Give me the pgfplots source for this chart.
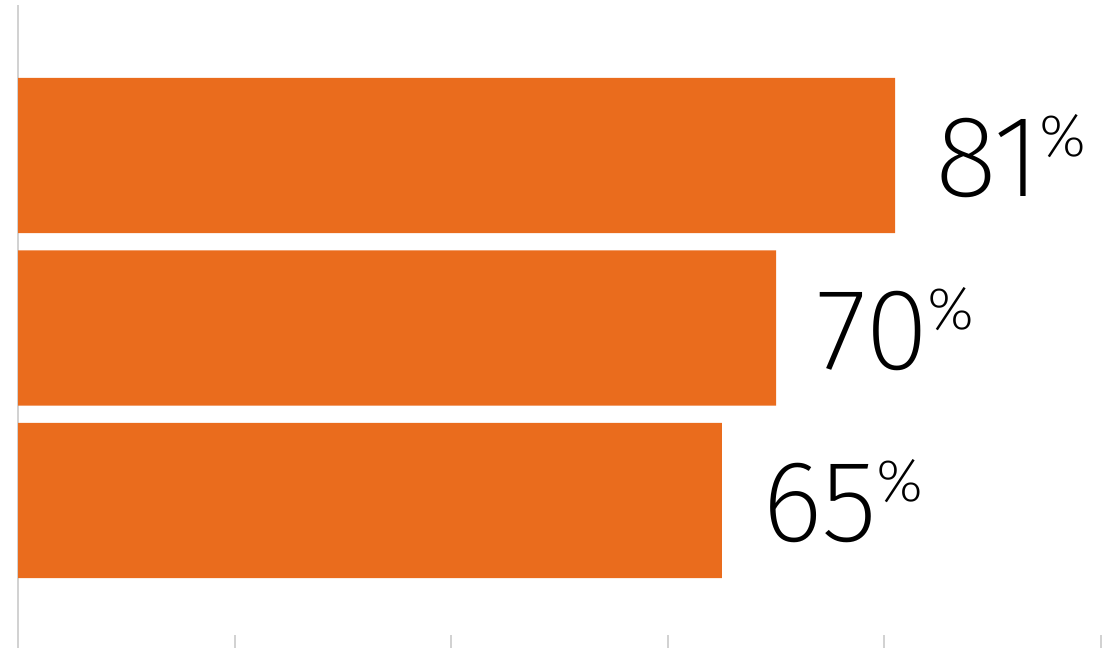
\documentclass[border=0pt]{standalone}
\usepackage{fontspec}
\setmainfont{Fira Sans ExtraLight}
\usepackage{pgfplots}
\pgfplotsset{compat=1.18}
\definecolor{barorange}{RGB}{234,108,29}
\definecolor{axisgray}{RGB}{210,210,210}

\newcommand{\biglabel}[1]{%
  {\fontsize{116}{116}\selectfont #1}%
  \hspace{-1pt}\raisebox{40pt}{\fontsize{60}{60}\selectfont\%}}

\begin{document}
\begin{tikzpicture}
\begin{axis}[
  at={(18pt,0pt)}, anchor=south west,
  scale only axis,
  width=1083pt, height=643pt,
  xmin=0, xmax=100,
  ymin=0.145, ymax=3.872,
  xbar, bar width=0.9,
  axis x line=bottom, axis y line=left,
  x axis line style={draw=none, -},
  y axis line style={draw=axisgray, line width=2pt, -},
  xtick={0,20,40,60,80,100}, xticklabels={},
  ytick=\empty,
  major tick length=13pt,
  tick style={draw=axisgray, line width=2pt},
  xtick align=inside,
  /pgf/number format/assume math mode=true,
  nodes near coords={\biglabel{\pgfmathprintnumber{\pgfplotspointmeta}}},
  every node near coord/.append style={anchor=west, inner sep=0pt, xshift=40pt, yshift=-1pt, text=black},
]
% top to bottom: 81, 70, 65
\addplot[fill=barorange, draw=none] coordinates {(81,3) (70,2) (65,1)};
\end{axis}
\pgfresetboundingbox
\useasboundingbox (0,0) rectangle (1104pt,648pt);
\end{tikzpicture}
\end{document}
